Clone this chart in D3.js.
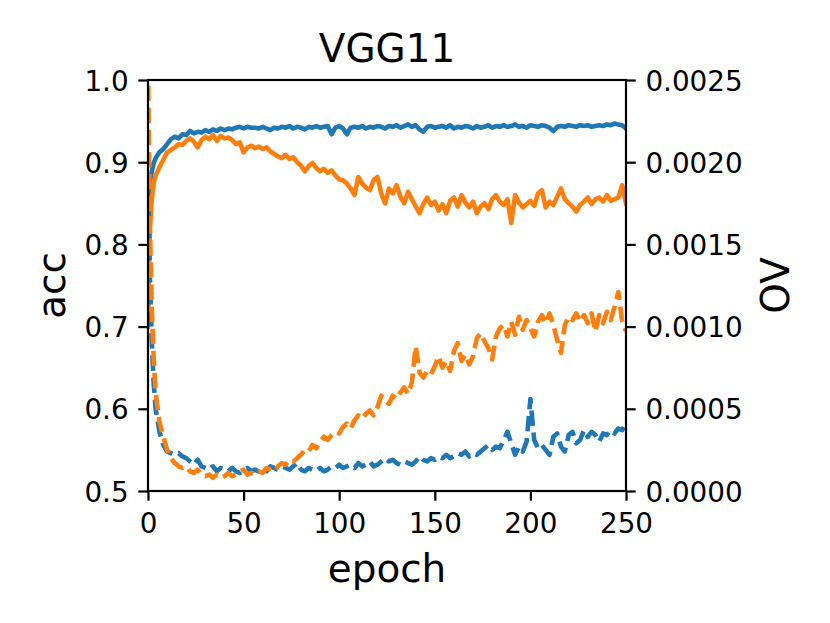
<!DOCTYPE html>
<html>
<head>
<meta charset="utf-8">
<script src="https://cdn.jsdelivr.net/npm/d3@7"></script>
<style>
html,body{margin:0;padding:0;background:#fff;}
svg{display:block;font-family:"DejaVu Sans",sans-serif;}
</style>
</head>
<body>
<svg id="chart" width="830" height="623"></svg>
<script>
const title = "VGG11";
const xLabel = "epoch";
const yLabelLeft = "acc";
const yLabelRight = "OV";
const xTicks = [0, 50, 100, 150, 200, 250];
const yTicksLeft = [0.5, 0.6, 0.7, 0.8, 0.9, 1.0];
const yTicksRight = [0.0000, 0.0005, 0.0010, 0.0015, 0.0020, 0.0025];

const epochs = [0,1,2,3,4,6,8,10,12,14,16,18,20,22,24,26,28,30,32,34,36,38,40,42,44,46,48,50,
52,54,56,58,60,62,64,66,68,70,72,74,76,78,80,82,84,86,88,90,92,94,96,98,100,
102,104,106,108,110,112,114,116,118,120,122,124,126,128,130,132,134,136,138,140,
142,144,146,148,150,152,154,156,158,160,162,164,166,168,170,172,174,176,178,180,
182,184,186,188,190,192,194,196,198,200,202,204,206,208,210,212,214,216,218,220,
222,224,226,228,230,232,234,236,238,240,242,244,246,248,250];

const accBlue = [0.86,0.872,0.889,0.899,0.905,0.912,0.916,0.922,0.928,0.931,0.929,0.934,0.933,0.938,0.935,0.937,0.936,0.939,0.937,0.940,0.938,0.941,0.939,0.941,0.940,0.942,0.943,0.941,
0.943,0.942,0.942,0.941,0.943,0.941,0.939,0.942,0.941,0.943,0.942,0.944,0.941,0.943,0.942,0.940,0.943,0.942,0.944,0.942,0.943,0.944,0.934,0.942,0.944,
0.941,0.934,0.942,0.943,0.942,0.944,0.941,0.943,0.942,0.944,0.943,0.941,0.944,0.943,0.945,0.942,0.944,0.946,0.943,0.945,
0.940,0.937,0.943,0.944,0.942,0.943,0.944,0.942,0.945,0.941,0.943,0.942,0.944,0.943,0.941,0.944,0.942,0.943,0.945,0.942,
0.944,0.943,0.945,0.943,0.944,0.946,0.943,0.944,0.942,0.945,0.944,0.943,0.945,0.944,0.942,0.938,0.943,0.944,0.943,0.945,
0.944,0.943,0.945,0.944,0.945,0.943,0.944,0.945,0.944,0.946,0.945,0.947,0.946,0.945,0.941];

const accOrange = [0.70,0.82,0.855,0.875,0.884,0.894,0.903,0.912,0.915,0.918,0.922,0.921,0.926,0.929,0.925,0.918,0.927,0.931,0.928,0.933,0.926,0.932,0.929,0.93,0.927,0.922,0.924,0.912,
0.918,0.92,0.917,0.919,0.916,0.918,0.913,0.91,0.907,0.905,0.909,0.904,0.906,0.9,0.896,0.889,0.895,0.899,0.893,0.889,0.892,0.887,0.89,0.884,0.879,
0.878,0.874,0.868,0.86,0.882,0.874,0.869,0.866,0.878,0.882,0.862,0.85,0.868,0.862,0.872,0.858,0.85,0.864,0.855,0.846,
0.838,0.849,0.857,0.848,0.852,0.841,0.849,0.838,0.853,0.857,0.846,0.86,0.851,0.845,0.852,0.838,0.846,0.85,0.843,0.855,
0.86,0.852,0.848,0.855,0.826,0.86,0.851,0.845,0.849,0.853,0.847,0.862,0.866,0.845,0.852,0.848,0.858,0.868,0.855,0.85,
0.846,0.84,0.848,0.852,0.857,0.849,0.855,0.857,0.852,0.86,0.853,0.855,0.857,0.872,0.85];

const ovBlue = [0.0019,0.0013,0.0009,0.00065,0.0005,0.00036,0.00028,0.00024,0.00023,0.00022,0.00023,0.00021,0.0002,0.00018,0.00016,0.00019,0.00015,0.00014,0.00013,0.00015,0.00012,0.00014,0.00013,0.00012,0.00014,0.00012,0.00011,0.00013,
0.00014,0.00012,0.00013,0.00012,0.00013,0.00012,0.00015,0.00014,0.00013,0.00015,0.00014,0.00013,0.00015,0.00017,0.00013,0.00012,0.00014,0.00013,0.00012,0.00014,0.00012,0.00013,0.00015,0.00014,0.00016,
0.00014,0.00015,0.00016,0.00014,0.00017,0.00015,0.00016,0.00018,0.00015,0.00016,0.00018,0.0002,0.00018,0.00019,0.00017,0.00016,0.00018,0.00017,0.00016,0.00018,
0.00021,0.00019,0.00018,0.0002,0.00019,0.00021,0.0002,0.00022,0.0002,0.00021,0.00023,0.00022,0.00024,0.00021,0.00023,0.00022,0.00024,0.00026,0.00028,0.00025,
0.00027,0.00026,0.00031,0.00036,0.00029,0.00022,0.00027,0.00024,0.0003,0.00056,0.00031,0.00026,0.00028,0.00025,0.00022,0.00033,0.00035,0.00027,0.00024,0.00034,
0.00036,0.00029,0.00031,0.00037,0.00033,0.00036,0.00034,0.0003,0.00035,0.00034,0.00037,0.00035,0.00038,0.00037,0.00041];

const ovOrange = [0.0026,0.0016,0.0011,0.0008,0.0006,0.00042,0.00033,0.00025,0.0002,0.00017,0.00015,0.00014,0.00015,0.00012,0.00011,0.00013,0.0001,0.00009,0.0001,0.00008,0.0001,0.00008,0.00009,0.00011,0.00009,0.0001,0.00012,0.00013,
0.0001,0.00011,0.0001,0.00012,0.00011,0.00014,0.00013,0.00012,0.00015,0.00017,0.00016,0.00019,0.00018,0.0002,0.00022,0.00025,0.00024,0.00028,0.00026,0.0003,0.00033,0.00031,0.00034,0.00036,0.00035,
0.00039,0.00041,0.00038,0.00043,0.00046,0.00044,0.00047,0.00049,0.00046,0.00051,0.00058,0.00055,0.00053,0.00058,0.00056,0.0006,0.00063,0.00059,0.00066,0.00088,
0.00072,0.00069,0.00073,0.00071,0.00076,0.00082,0.00075,0.00079,0.00073,0.00085,0.0009,0.00079,0.00083,0.00077,0.00082,0.00093,0.00096,0.00091,0.00087,0.0008,
0.00094,0.00099,0.00101,0.00094,0.00103,0.00095,0.00106,0.00098,0.00104,0.00099,0.00094,0.00103,0.00107,0.00102,0.00108,0.00101,0.00092,0.00084,0.00101,0.00106,
0.00104,0.00108,0.00103,0.00107,0.00102,0.00108,0.00097,0.00107,0.00102,0.00109,0.00104,0.00112,0.00121,0.00103,0.00097];

const colors = {blue: "#1f77b4", orange: "#ff7f0e"};

const svg = d3.select("#chart");
const L = 148, R = 626, T = 80, B = 491;
const x = d3.scaleLinear().domain([0, 250]).range([L, R]);
const yL = d3.scaleLinear().domain([0.5, 1.0]).range([B, T]);
const yR = d3.scaleLinear().domain([0, 0.0025]).range([B, T]);

const tickFont = 27.8, labelFont = 38.9;
const tickLen = 9.7, pad = 9.7, spineW = 2.2, lw = 4.6;

svg.append("defs").append("clipPath").attr("id", "clip")
  .append("rect").attr("x", L).attr("y", T).attr("width", R - L).attr("height", B - T);

const plot = svg.append("g").attr("clip-path", "url(#clip)");

function addLine(vals, scale, color, dashed) {
  const line = d3.line().x((d, i) => x(epochs[i])).y(d => scale(d));
  const p = plot.append("path").datum(vals)
    .attr("d", line).attr("fill", "none")
    .attr("stroke", color).attr("stroke-width", lw)
    .attr("stroke-linejoin", "round");
  if (dashed) p.attr("stroke-dasharray", `${3.7*4.17} ${1.6*4.17}`).attr("stroke-linecap", "butt");
  else p.attr("stroke-linecap", "square");
}
addLine(accBlue, yL, colors.blue, false);
addLine(accOrange, yL, colors.orange, false);
addLine(ovBlue, yR, colors.blue, true);
addLine(ovOrange, yR, colors.orange, true);

// axes
const axBottom = d3.axisBottom(x).tickValues(xTicks).tickSize(tickLen).tickPadding(pad).tickFormat(d3.format("d"));
const axLeft = d3.axisLeft(yL).tickValues(yTicksLeft).tickSize(tickLen).tickPadding(pad).tickFormat(d3.format(".1f"));
const axRight = d3.axisRight(yR).tickValues(yTicksRight).tickSize(tickLen).tickPadding(pad).tickFormat(d3.format(".4f"));

function styleAxis(g) {
  g.select(".domain").remove();
  g.selectAll(".tick line").attr("stroke", "#000").attr("stroke-width", spineW);
  g.selectAll(".tick text").attr("fill", "#000").style("font-size", tickFont + "px")
    .style("font-family", "DejaVu Sans");
}
const gb = svg.append("g").attr("transform", `translate(0,${B})`).call(axBottom).call(styleAxis);
gb.selectAll(".tick text").attr("dy", null).attr("y", 42);
const gl = svg.append("g").attr("transform", `translate(${L},0)`).call(axLeft).call(styleAxis);
gl.selectAll(".tick text").attr("dy", null).attr("y", 10.1);
const gr = svg.append("g").attr("transform", `translate(${R},0)`).call(axRight).call(styleAxis);
gr.selectAll(".tick text").attr("dy", null).attr("y", 10.1);

// spines
svg.append("rect").attr("x", L).attr("y", T).attr("width", R - L).attr("height", B - T)
  .attr("fill", "none").attr("stroke", "#000").attr("stroke-width", spineW)
  .attr("stroke-linecap", "square");

// labels
svg.append("text").attr("x", (L + R) / 2).attr("y", 582).attr("text-anchor", "middle")
  .style("font-size", labelFont + "px").text(xLabel);
svg.append("text").attr("x", (L + R) / 2).attr("y", 62).attr("text-anchor", "middle")
  .style("font-size", labelFont + "px").text(title);
svg.append("text").attr("transform", `translate(65,${(T + B) / 2}) rotate(-90)`).attr("text-anchor", "middle")
  .style("font-size", labelFont + "px").text(yLabelLeft);
svg.append("text").attr("transform", `translate(789,${(T + B) / 2}) rotate(-90)`).attr("text-anchor", "middle")
  .style("font-size", labelFont + "px").text(yLabelRight);
</script>
</body>
</html>
